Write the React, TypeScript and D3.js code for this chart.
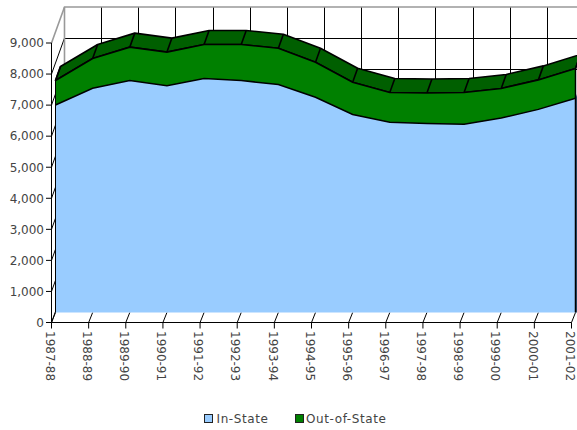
import React from "react";
import * as d3 from "d3";

const categories = ["1987-88","1988-89","1989-90","1990-91","1991-92","1992-93","1993-94","1994-95","1995-96","1996-97","1997-98","1998-99","1999-00","2000-01","2001-02"];
const inState = [6680,7220,7470,7300,7535,7470,7340,6930,6375,6130,6085,6065,6260,6540,6900];
const outOfState = [790,960,1075,1085,1095,1160,1170,1130,1040,955,985,1020,955,950,960];
const yTicks = [0,1000,2000,3000,4000,5000,6000,7000,8000,9000];

const W = 577, H = 430;
const font = "'DejaVu Sans', sans-serif";
const textColor = "#444";
const blue = "#99ccff", green = "#008000", darkGreen = "#005f00";

const x = d3.scalePoint<string>().domain(categories).range([51.5, 571.5]);
const y = d3.scaleLinear().domain([0, 9000]).range([322.5, 43]);
const fmt = d3.format(",");

// depth offsets
const plane = { dx: 4, dy: -10 };
const ribbon = { dx: 5, dy: -14 };
const back = { dx: 13, dy: -36 };

const totals = inState.map((v, i) => v + outOfState[i]);
const px = (i: number) => x(categories[i])! + plane.dx;
const py = (v: number) => y(v) + plane.dy;
const idx = categories.map((_, i) => i);

const areaIn = d3.area<number>().x(px).y0(py(0)).y1(i => py(inState[i]));
const areaOut = d3.area<number>().x(px).y0(i => py(inState[i])).y1(i => py(totals[i]));
const lineIn = d3.line<number>().x(px).y(i => py(inState[i]));
const lineTotal = d3.line<number>().x(px).y(i => py(totals[i]));

export default function App() {
  const topPts = idx.map(i => [px(i), py(totals[i])] as const);
  const ribbonPath =
    "M" + topPts.map(p => `${p[0]},${p[1]}`).join("L") +
    "L" + [...topPts].reverse().map(p => `${p[0] + ribbon.dx},${p[1] + ribbon.dy}`).join("L") + "Z";
  const last = idx.length - 1;
  const lx = px(last);
  const x0 = x(categories[0])!;
  return (
    <svg width={W} height={H} style={{ position: "absolute", left: 0, top: 0, background: "#fff" }}>
      {/* back wall grid */}
      {yTicks.slice(0, -1).map(t => (
        <line key={t} x1={x0 + back.dx} x2={W} y1={y(t) + back.dy} y2={y(t) + back.dy} stroke="#000" strokeWidth={1} shapeRendering="crispEdges" />
      ))}
      {categories.slice(1).map(c => (
        <line key={c} x1={x(c)! + back.dx} x2={x(c)! + back.dx} y1={y(9000) + back.dy} y2={y(0) + back.dy} stroke="#000" strokeWidth={1} shapeRendering="crispEdges" />
      ))}
      {/* left wall lines */}
      {yTicks.slice(0, -1).map(t => (
        <line key={t} x1={x0} x2={x0 + back.dx} y1={y(t)} y2={y(t) + back.dy} stroke="#000" strokeWidth={1} />
      ))}
      {/* wall outline */}
      <path
        d={`M${x0},${y(9000)}L${x0 + back.dx},${y(9000) + back.dy}L${W},${y(9000) + back.dy}`}
        fill="none" stroke="#999" strokeWidth={1.6}
      />
      <line x1={x0 + back.dx} x2={x0 + back.dx} y1={y(9000) + back.dy} y2={y(0) + back.dy} stroke="#999" strokeWidth={1.6} />
      {/* floor lines */}
      {categories.map(c => (
        <line key={c} x1={x(c)} x2={x(c)! + plane.dx} y1={y(0)} y2={y(0) + plane.dy} stroke="#000" strokeWidth={1} />
      ))}
      {/* series faces */}
      <path d={ribbonPath} fill={darkGreen} stroke="#000" strokeWidth={1.6} strokeLinejoin="round" />
      <path d={`M${lx},${py(inState[last])}L${lx + ribbon.dx},${py(inState[last]) + ribbon.dy}L${lx + ribbon.dx},${py(0)}L${lx},${py(0)}Z`} fill="#335577" />
      {idx.map(i => (
        <line key={i} x1={px(i)} y1={py(totals[i])} x2={px(i) + ribbon.dx} y2={py(totals[i]) + ribbon.dy} stroke="#000" strokeWidth={1.6} />
      ))}
      <path d={areaIn(idx)!} fill={blue} />
      <path d={areaOut(idx)!} fill={green} />
      <path d={lineIn(idx)!} fill="none" stroke="#000" strokeWidth={1.5} />
      <path d={lineTotal(idx)!} fill="none" stroke="#000" strokeWidth={1.6} />
      <line x1={px(0)} x2={px(0)} y1={py(totals[0])} y2={py(0)} stroke="#000" strokeWidth={1} />
      <line x1={lx} x2={lx} y1={py(totals[last])} y2={py(0)} stroke="#000" strokeWidth={1.5} />
      {/* axes */}
      <line x1={x0} x2={x0} y1={y(9000)} y2={y(0)} stroke="#000" strokeWidth={1} />
      <line x1={x0} x2={x(categories[last])} y1={y(0)} y2={y(0)} stroke="#000" strokeWidth={1} />
      {yTicks.map(t => (
        <g key={t}>
          <line x1={46} x2={x0} y1={y(t)} y2={y(t)} stroke="#000" strokeWidth={1} />
          <text x={44} y={y(t)} dy="0.36em" textAnchor="end" fontFamily={font} fontSize={12} fill={textColor}>{fmt(t)}</text>
        </g>
      ))}
      {categories.map(c => (
        <g key={c}>
          <line x1={x(c)} x2={x(c)} y1={y(0)} y2={y(0) + 6} stroke="#000" strokeWidth={1} />
          <text transform={`translate(${x(c)! - 1.5},331) rotate(90)`} dy="0.36em" fontFamily={font} fontSize={12} fill={textColor}>{c}</text>
        </g>
      ))}
      {/* legend */}
      <rect x={204.5} y={414.5} width={8} height={8} fill={blue} stroke="#222" strokeWidth={1} />
      <text x={216.5} y={423} fontFamily={font} fontSize={12} letterSpacing={0.6} fill={textColor}>In-State</text>
      <rect x={295.5} y={414.5} width={8} height={8} fill={green} stroke="#222" strokeWidth={1} />
      <text x={306} y={423} fontFamily={font} fontSize={12} letterSpacing={0.6} fill={textColor}>Out-of-State</text>
    </svg>
  );
}
